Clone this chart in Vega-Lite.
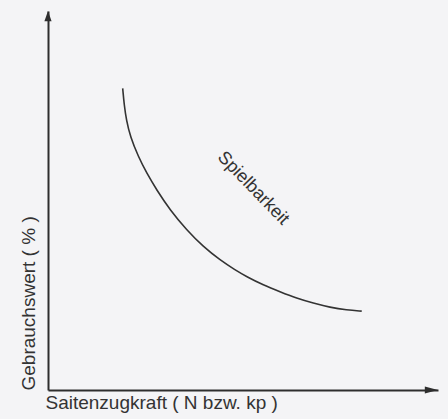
{
  "$schema": "https://vega.github.io/schema/vega-lite/v6.json",
  "width": 390,
  "height": 379,
  "autosize": {"type": "none"},
  "padding": {"left": 48, "top": 11, "right": 10, "bottom": 29},
  "background": "#f4f4f6",
  "config": {
    "view": {"stroke": null},
    "font": "Liberation Sans",
    "axis": {
      "domainColor": "#2e2e2e",
      "domainWidth": 2,
      "ticks": false,
      "labels": false,
      "grid": false,
      "titleFont": "Liberation Sans",
      "titleFontSize": 19,
      "titleFontWeight": "normal",
      "titleColor": "#333333"
    }
  },
  "datasets": {
    "curve": [
      {"kraft": 19.15, "wert": 79.6},
      {"kraft": 19.54, "wert": 75.2},
      {"kraft": 20.1, "wert": 71.2},
      {"kraft": 21.1, "wert": 66.8},
      {"kraft": 23.15, "wert": 61.6},
      {"kraft": 25.31, "wert": 57.2},
      {"kraft": 27.87, "wert": 52.8},
      {"kraft": 31.28, "wert": 47.5},
      {"kraft": 35.56, "wert": 42.2},
      {"kraft": 39.82, "wert": 37.8},
      {"kraft": 44.10, "wert": 34.3},
      {"kraft": 47.95, "wert": 31.7},
      {"kraft": 50.95, "wert": 29.9},
      {"kraft": 55.21, "wert": 27.7},
      {"kraft": 59.49, "wert": 25.9},
      {"kraft": 63.77, "wert": 24.2},
      {"kraft": 68.03, "wert": 22.9},
      {"kraft": 72.31, "wert": 21.8},
      {"kraft": 76.59, "wert": 21.1},
      {"kraft": 80.44, "wert": 20.8}
    ],
    "arrowY": [{"kraft": 0, "wert": 100}],
    "arrowX": [{"kraft": 100, "wert": 0}],
    "label": [{"kraft": 52.6, "wert": 53.2, "text": "Spielbarkeit"}]
  },
  "layer": [
    {
      "data": {"name": "curve"},
      "mark": {"type": "line", "interpolate": "basis", "color": "#333333", "strokeWidth": 1.6},
      "encoding": {
        "x": {
          "field": "kraft", "type": "quantitative",
          "scale": {"domain": [0, 100], "nice": false, "zero": false},
          "axis": {"title": "Saitenzugkraft ( N bzw. kp )", "titleAnchor": "start", "titlePadding": 3, "titleX": -3}
        },
        "y": {
          "field": "wert", "type": "quantitative",
          "scale": {"domain": [0, 100], "nice": false, "zero": false},
          "axis": {"title": "Gebrauchswert ( % )", "titleAnchor": "start", "titlePadding": 10}
        }
      }
    },
    {
      "data": {"name": "arrowY"},
      "mark": {"type": "point", "shape": "M0,0L-0.6,1.7L0.6,1.7Z", "size": 144, "filled": true, "color": "#2e2e2e", "opacity": 1},
      "encoding": {
        "x": {"field": "kraft", "type": "quantitative"},
        "y": {"field": "wert", "type": "quantitative"}
      }
    },
    {
      "data": {"name": "arrowX"},
      "mark": {"type": "point", "shape": "M0,0L-2.2,-0.6L-2.2,0.6Z", "size": 144, "filled": true, "color": "#2e2e2e", "opacity": 1},
      "encoding": {
        "x": {"field": "kraft", "type": "quantitative"},
        "y": {"field": "wert", "type": "quantitative"}
      }
    },
    {
      "data": {"name": "label"},
      "mark": {"type": "text", "angle": 46, "fontSize": 18, "font": "Liberation Sans", "color": "#333333", "align": "center", "baseline": "middle"},
      "encoding": {
        "x": {"field": "kraft", "type": "quantitative"},
        "y": {"field": "wert", "type": "quantitative"},
        "text": {"field": "text"}
      }
    }
  ]
}
